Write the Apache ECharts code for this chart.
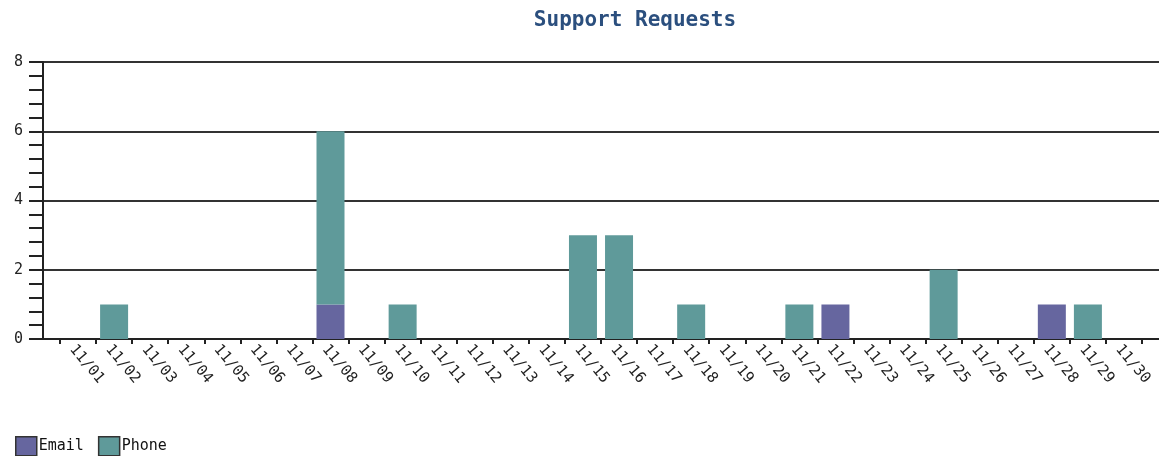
<!DOCTYPE html>
<html>
<head>
<meta charset="utf-8">
<script src="https://cdn.jsdelivr.net/npm/echarts@6/dist/echarts.min.js"></script>
<style>
html,body{margin:0;padding:0;background:#fff;}
#chart{width:1159px;height:456px;}
</style>
</head>
<body>
<div id="chart"></div>
<script>
const categories = ['11/01','11/02','11/03','11/04','11/05','11/06','11/07','11/08','11/09','11/10',
  '11/11','11/12','11/13','11/14','11/15','11/16','11/17','11/18','11/19','11/20',
  '11/21','11/22','11/23','11/24','11/25','11/26','11/27','11/28','11/29','11/30'];
const emailValues = [0,0,0,0,0,0,0,1,0,0, 0,0,0,0,0,0,0,0,0,0, 0,1,0,0,0,0,0,1,0,0];
const phoneValues = [0,1,0,0,0,0,0,5,0,1, 0,0,0,0,3,3,0,1,0,0, 1,0,0,0,2,0,0,0,1,0];
const yTicks = [0,2,4,6,8];

const mono = '"DejaVu Sans Mono", monospace';
const chart = echarts.init(document.getElementById('chart'), null, {renderer:'canvas'});
const toData = arr => arr.map(v => v === 0 ? null : v);

chart.setOption({
  animation: false,
  title: {
    text: 'Support Requests', left: 630, top: 5, textAlign: 'center',
    textStyle: {fontFamily: mono, fontWeight: 'bold', fontSize: 21, color: '#2b4f7e'}
  },
  legend: {
    left: 10, top: 431, itemWidth: 21, itemHeight: 19, itemGap: 14,
    icon: 'rect',
    textStyle: {fontFamily: mono, fontSize: 15, color: '#111', padding: [0,0,0,-3]},
    data: [
      {name:'Email', itemStyle:{borderColor:'#333', borderWidth:1.5}},
      {name:'Phone', itemStyle:{borderColor:'#333', borderWidth:1.5}}
    ]
  },
  grid: [
    {left: 43, right: 0, top: 62, bottom: 117},
    {left: 60, right: 17, top: 62, bottom: 117}
  ],
  xAxis: [
    {gridIndex: 0, type: 'value', min: 0, max: 1, show: true,
      axisLine: {show: true, onZero: false, lineStyle: {color: '#222', width: 2}},
      axisTick: {show: false}, axisLabel: {show: false}, splitLine: {show: false}},
    {gridIndex: 1, type: 'category', data: categories,
      axisLine: {show: false},
      axisTick: {show: true, alignWithLabel: false, length: 5, lineStyle: {color: '#222', width: 2}},
      axisLabel: {rotate: -50, margin: 3, interval: 0, fontFamily: mono, fontSize: 15, color: '#222',
        verticalAlign: 'top'},
      splitLine: {show: false}}
  ],
  yAxis: [
    {gridIndex: 0, type: 'value', min: 0, max: 8, interval: 2,
      axisLine: {show: true, lineStyle: {color: '#222', width: 2}},
      axisTick: {show: true, length: 14, lineStyle: {color: '#222', width: 2}},
      minorTick: {show: true, splitNumber: 5, length: 14, lineStyle: {color: '#222', width: 2}},
      axisLabel: {margin: 20, fontFamily: mono, fontSize: 15, color: '#222',
        formatter: v => yTicks.includes(v) ? String(v) : ''},
      splitLine: {show: true, lineStyle: {color: '#333', width: 2}}},
    {gridIndex: 1, type: 'value', min: 0, max: 8, interval: 2, show: false}
  ],
  series: [
    {name: 'Email', type: 'bar', stack: 'all', xAxisIndex: 1, yAxisIndex: 1,
      data: toData(emailValues), barWidth: 28, itemStyle: {color: '#66669f'}},
    {name: 'Phone', type: 'bar', stack: 'all', xAxisIndex: 1, yAxisIndex: 1,
      data: toData(phoneValues), barWidth: 28, itemStyle: {color: '#5f9a9a'}}
  ]
});
</script>
</body>
</html>
